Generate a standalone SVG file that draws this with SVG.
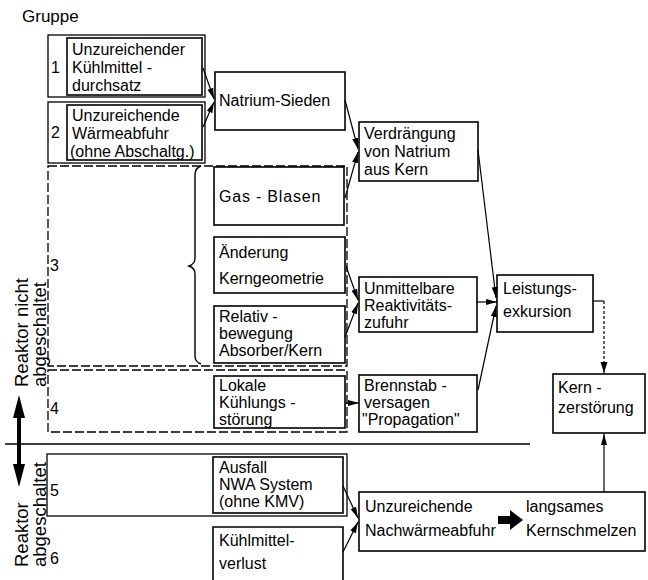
<svg xmlns="http://www.w3.org/2000/svg" width="648" height="580" viewBox="0 0 648 580">
<defs>
<marker id="ah" markerUnits="userSpaceOnUse" markerWidth="12" markerHeight="8" refX="11" refY="4" orient="auto">
<path d="M0,1 L11,4 L0,7 Z" fill="#000"/>
</marker>
<marker id="ah2" markerUnits="userSpaceOnUse" markerWidth="12" markerHeight="8" refX="11" refY="4" orient="auto">
<path d="M0,0.5 L11,4 L0,7.5 Z" fill="#000"/>
</marker>
</defs>
<style>
text{font-family:"Liberation Sans",Arial,sans-serif;font-size:16px;fill:#000}
.g{font-size:17px}
.v{font-size:18.5px}
.box{fill:#fff;stroke:#000;stroke-width:1.6}
.outer{fill:none;stroke:#000;stroke-width:1.3}
.dash{fill:none;stroke:#000;stroke-width:1.3;stroke-dasharray:9 3}
.c{fill:none;stroke:#000;stroke-width:1.2;marker-end:url(#ah)}
</style>
<rect width="648" height="580" fill="#fff"/>
<text class="g" x="22" y="22">Gruppe</text>

<g id="groups">
<rect class="outer" x="48" y="35" width="157" height="62"/>
<text x="51" y="73">1</text>
<rect class="outer" x="48" y="102" width="157" height="61"/>
<text x="51" y="138">2</text>
<rect class="dash" x="48" y="166" width="299" height="200"/>
<text x="50" y="271">3</text>
<rect class="dash" x="48" y="370" width="299" height="62"/>
<text x="50" y="414">4</text>
<rect class="outer" x="47" y="454" width="300" height="62"/>
<text x="50" y="496">5</text>
<text x="50" y="564">6</text>
<path d="M201,166 Q195,168 195,175 L195,258 Q195,264 189,266 Q195,268 195,274 L195,356 Q195,362 201,364" fill="none" stroke="#000" stroke-width="1.4"/>
</g>

<g id="side">
<text class="v" transform="translate(28,387) rotate(-90)">Reaktor nicht</text>
<text class="v" transform="translate(46,387) rotate(-90)">abgeschaltet</text>
<text class="v" transform="translate(28,567) rotate(-90)">Reaktor</text>
<text class="v" transform="translate(46,567) rotate(-90)">abgeschaltet</text>
<line x1="19" y1="415" x2="19" y2="467" stroke="#000" stroke-width="4"/>
<path d="M19,395 L25,418 L13,418 Z" fill="#000"/>
<path d="M19,487 L25,464 L13,464 Z" fill="#000"/>
<line x1="5" y1="444" x2="530" y2="444" stroke="#000" stroke-width="1.3"/>
</g>

<g id="n1">
<rect class="box" x="67" y="38" width="135" height="57"/>
<text x="72" y="55">Unzureichender</text>
<text x="72" y="73">Kühlmittel -</text>
<text x="72" y="91">durchsatz</text>
</g>
<g id="n2">
<rect class="box" x="67" y="105" width="135" height="55"/>
<text x="72" y="121">Unzureichende</text>
<text x="72" y="139">Wärmeabfuhr</text>
<text x="70" y="157">(ohne Abschaltg.)</text>
</g>
<g id="n_natrium">
<rect class="box" x="215" y="72" width="130" height="58"/>
<text x="219" y="106">Natrium-Sieden</text>
</g>
<g id="n_gas">
<rect class="box" x="214" y="167" width="130" height="58"/>
<text x="219" y="202" letter-spacing="0.8">Gas - Blasen</text>
</g>
<g id="n_aend">
<rect class="box" x="214" y="237" width="131" height="56"/>
<text x="219" y="258">Änderung</text>
<text x="219" y="284">Kerngeometrie</text>
</g>
<g id="n_rel">
<rect class="box" x="214" y="306" width="131" height="57"/>
<text x="219" y="322">Relativ -</text>
<text x="219" y="339">bewegung</text>
<text x="219" y="356">Absorber/Kern</text>
</g>
<g id="n_lokal">
<rect class="box" x="214" y="376" width="131" height="52"/>
<text x="219" y="391">Lokale</text>
<text x="219" y="408">Kühlungs -</text>
<text x="219" y="425">störung</text>
</g>
<g id="n_ausfall">
<rect class="box" x="213" y="457" width="130" height="56"/>
<text x="219" y="473">Ausfall</text>
<text x="219" y="490">NWA  System</text>
<text x="219" y="507">(ohne KMV)</text>
</g>
<g id="n_kuehl">
<path class="box" d="M213,584 L213,527 L343,527 L343,584"/>
<text x="219" y="546">Kühlmittel-</text>
<text x="219" y="569">verlust</text>
</g>
<g id="n_verd">
<rect class="box" x="359" y="122" width="119" height="59"/>
<text x="364" y="139">Verdrängung</text>
<text x="364" y="157">von Natrium</text>
<text x="364" y="175">aus Kern</text>
</g>
<g id="n_unm">
<rect class="box" x="359" y="277" width="118" height="55"/>
<text x="364" y="294">Unmittelbare</text>
<text x="364" y="311">Reaktivitäts-</text>
<text x="364" y="328">zufuhr</text>
</g>
<g id="n_brenn">
<rect class="box" x="359" y="375" width="118" height="57"/>
<text x="364" y="391">Brennstab -</text>
<text x="364" y="408">versagen</text>
<text x="362" y="425">"Propagation"</text>
</g>
<g id="n_leist">
<rect class="box" x="497" y="275" width="96" height="57"/>
<text x="503" y="294">Leistungs-</text>
<text x="503" y="317">exkursion</text>
</g>
<g id="n_kern">
<rect class="box" x="553" y="374" width="92" height="59"/>
<text x="558" y="393">Kern -</text>
<text x="558" y="413">zerstörung</text>
</g>
<g id="n_nach">
<rect class="box" x="359" y="492" width="286" height="59"/>
<text x="365" y="512">Unzureichende</text>
<text x="365" y="536">Nachwärmeabfuhr</text>
<text x="526" y="512">langsames</text>
<text x="526" y="536">Kernschmelzen</text>
<path d="M498,516 L510,516 L510,510 L523,520 L510,530 L510,524 L498,524 Z" fill="#000"/>
</g>

<g id="connectors">
<line class="c" x1="203" y1="68" x2="214" y2="99"/>
<line class="c" x1="203" y1="127" x2="214" y2="102"/>
<line class="c" x1="345" y1="100" x2="358" y2="149"/>
<line class="c" x1="345" y1="198" x2="358" y2="152"/>
<line class="c" x1="346" y1="266" x2="358" y2="300"/>
<line class="c" x1="345" y1="337" x2="358" y2="303"/>
<line class="c" x1="345" y1="403" x2="359" y2="403"/>
<line class="c" x1="478" y1="150" x2="496" y2="298"/>
<line class="c" x1="477" y1="302" x2="497" y2="302"/>
<line class="c" x1="478" y1="390" x2="496" y2="306"/>
<path d="M593,301 L604,301" fill="none" stroke="#000" stroke-width="1.2"/>
<path d="M604,301 L604,373" fill="none" stroke="#000" stroke-width="1.2" stroke-dasharray="3 2" marker-end="url(#ah2)"/>
<line class="c" x1="604" y1="492" x2="604" y2="434"/>
<line class="c" x1="343" y1="486" x2="358" y2="518"/>
<line class="c" x1="343" y1="552" x2="358" y2="522"/>
</g>
</svg>
